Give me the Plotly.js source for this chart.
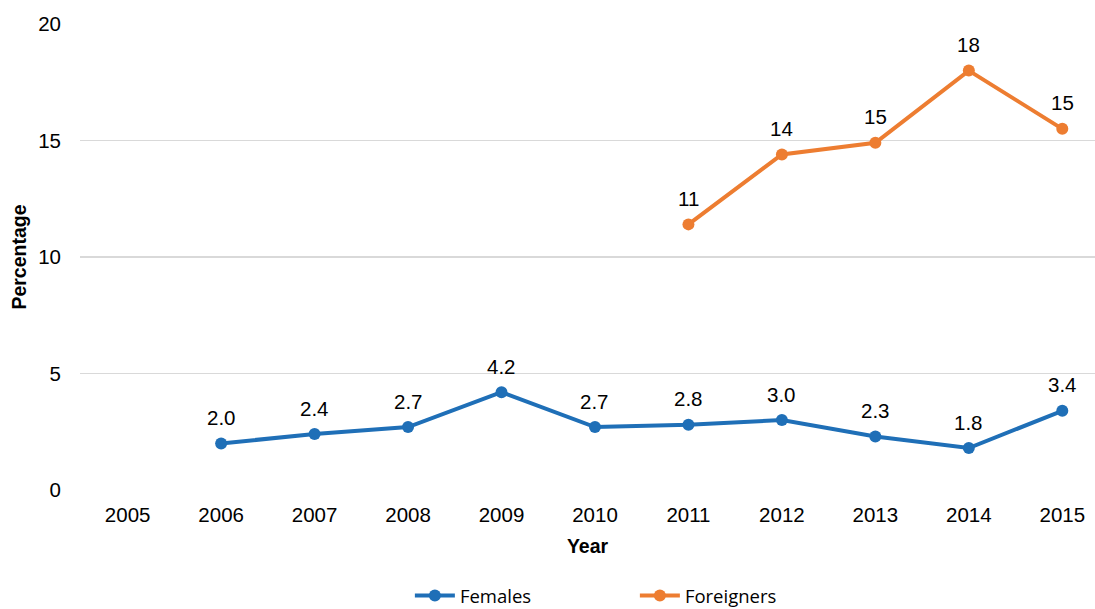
<!DOCTYPE html>
<html>
<head>
<meta charset="utf-8">
<script src="https://cdn.plot.ly/plotly-3.0.1.min.js"></script>
<style>html,body{margin:0;padding:0;background:#fff;}#chart{width:1095px;height:609px;}</style>
</head>
<body>
<div id="chart"></div>
<script>
const years = ["2005","2006","2007","2008","2009","2010","2011","2012","2013","2014","2015"];
const females = [null, 2.0, 2.4, 2.7, 4.2, 2.7, 2.8, 3.0, 2.3, 1.8, 3.4];
const foreigners = [null, null, null, null, null, null, 11.4, 14.4, 14.9, 18.0, 15.5];
const femaleLabels = [null, "2.0", "2.4", "2.7", "4.2", "2.7", "2.8", "3.0", "2.3", "1.8", "3.4"];
const foreignerLabels = [null, null, null, null, null, null, "11", "14", "15", "18", "15"];
const yTicks = [0, 5, 10, 15, 20];

const blue = "#1F6FB7";
const orange = "#ED7D31";
const font = "Liberation Sans";

const traces = [
  {x: years, y: females, name: "Females", type: "scatter", mode: "lines+markers",
   line: {color: blue, width: 4}, marker: {color: blue, size: 12}, connectgaps: false},
  {x: years, y: foreigners, name: "Foreigners", type: "scatter", mode: "lines+markers",
   line: {color: orange, width: 4}, marker: {color: orange, size: 12}, connectgaps: false}
];

const annotations = [];
function addLabels(vals, labels) {
  vals.forEach((v, i) => {
    if (v === null) return;
    annotations.push({x: i, y: v, xref: "x", yref: "y", text: labels[i], showarrow: false,
      yshift: 26, font: {family: font, size: 20.5, color: "#000"}});
  });
}
addLabels(females, femaleLabels);
addLabels(foreigners, foreignerLabels);

const layout = {
  width: 1095, height: 609,
  margin: {l: 80, r: 0, t: 24, b: 119, autoexpand: false},
  paper_bgcolor: "#fff", plot_bgcolor: "#fff",
  font: {family: font, size: 20.5, color: "#000"},
  showlegend: true,
  legend: {orientation: "h", x: 0.325, xanchor: "left", y: -0.2275, yanchor: "middle",
    font: {family: "Open Sans", size: 18.5, color: "#000"},
    entrywidth: 170, itemwidth: 40},
  xaxis: {type: "category", categoryarray: years, range: [-0.51, 10.35],
    showgrid: false, zeroline: false, showline: false, ticks: "", automargin: false,
    tickfont: {family: font, size: 20.5}, ticklabelstandoff: 10,
    title: {text: "<b>Year</b>", font: {family: font, size: 19.5}, standoff: 14}},
  yaxis: {range: [0, 20], tickvals: yTicks, showgrid: true, gridcolor: "#D9D9D9", gridwidth: 1.5,
    zeroline: false, showline: false, ticks: "", automargin: false,
    tickfont: {family: font, size: 20.5}, ticklabelstandoff: 18,
    title: {text: "<b>Percentage</b>", font: {family: font, size: 19.5}, standoff: 6}},
  annotations: annotations
};

Plotly.newPlot("chart", traces, layout, {displayModeBar: false, staticPlot: true});
</script>
</body>
</html>
